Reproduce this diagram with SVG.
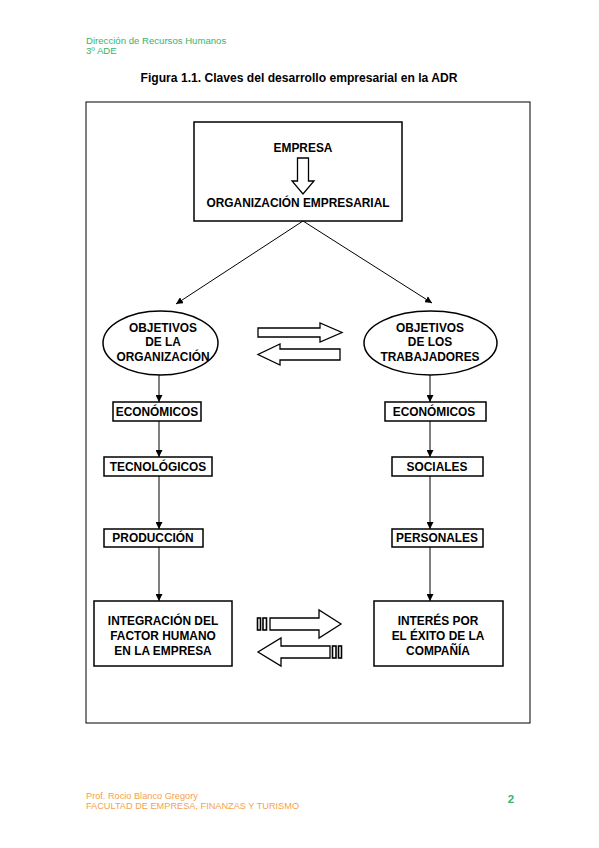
<svg xmlns="http://www.w3.org/2000/svg" width="599" height="848" viewBox="0 0 599 848">
<style>
text{font-family:"Liberation Sans",Arial,sans-serif}
.d{font-weight:bold;font-size:11.9px;fill:#000;text-anchor:middle}
.box{fill:#fff;stroke:#000;stroke-width:1.5}
.ln{stroke:#000;stroke-width:1;fill:none}
.ha{fill:#fff;stroke:#000;stroke-width:1.3}
.bar{fill:#fff;stroke:#000;stroke-width:1.6}
.hdr{fill:#33b56e;font-size:9.6px}
.ftr{fill:#f5a24c;font-size:9.2px}
</style>
<defs>
<marker id="ah" viewBox="0 0 10 10" refX="10" refY="5" markerWidth="7" markerHeight="7" orient="auto" markerUnits="userSpaceOnUse">
<path d="M0,0 L10,5 L0,10 z" fill="#000"/>
</marker>
</defs>
<rect width="599" height="848" fill="#fff"/>
<g id="header">
<text class="hdr" x="86" y="44">Dirección de Recursos Humanos</text>
<text class="hdr" x="86" y="54">3º ADE</text>
</g>
<text x="299" y="82" font-weight="bold" font-size="12.1" text-anchor="middle">Figura 1.1. Claves del desarrollo empresarial en la ADR</text>
<rect x="86" y="102" width="444" height="621" fill="none" stroke="#000" stroke-width="1"/>

<g id="connectors">
<line class="ln" x1="303" y1="221" x2="176" y2="304" marker-end="url(#ah)"/>
<line class="ln" x1="303" y1="221" x2="432" y2="303" marker-end="url(#ah)"/>
<line class="ln" x1="159" y1="375" x2="159" y2="402" marker-end="url(#ah)"/>
<line class="ln" x1="159" y1="421" x2="159" y2="457" marker-end="url(#ah)"/>
<line class="ln" x1="159" y1="476" x2="159" y2="529" marker-end="url(#ah)"/>
<line class="ln" x1="159" y1="547" x2="159" y2="601" marker-end="url(#ah)"/>
<line class="ln" x1="430" y1="375" x2="430" y2="402" marker-end="url(#ah)"/>
<line class="ln" x1="430" y1="421" x2="430" y2="457" marker-end="url(#ah)"/>
<line class="ln" x1="430" y1="476" x2="430" y2="529" marker-end="url(#ah)"/>
<line class="ln" x1="430" y1="547" x2="430" y2="601" marker-end="url(#ah)"/>
<path class="ha" d="M258,328 H320 V323 L342,332.5 L320,342 V337 H258 Z"/>
<path class="ha" d="M340,349 H280 V344 L258,354.5 L280,365 V360 H340 Z"/>
<path class="ha" d="M270,618 H319 V610 L341,624 L319,638 V630 H270 Z"/>
<rect class="bar" x="257.5" y="618" width="3" height="12"/>
<rect class="bar" x="263" y="618" width="3.5" height="12"/>
<path class="ha" d="M330,646 H281 V638 L258,652 L281,666 V658 H330 Z"/>
<rect class="bar" x="332.5" y="646" width="3.5" height="12"/>
<rect class="bar" x="338.5" y="646" width="3" height="12"/>
</g>

<g id="empresa">
<rect class="box" x="194" y="122" width="208" height="99"/>
<text class="d" x="303" y="152">EMPRESA</text>
<path class="ha" d="M297.5,158 H308.5 V181 H314 L303,194 L292,181 H297.5 Z"/>
<text class="d" x="298" y="207">ORGANIZACIÓN EMPRESARIAL</text>
</g>

<g id="obj-org">
<ellipse cx="160.5" cy="343" rx="57.5" ry="32" fill="#fff" stroke="#000" stroke-width="1.5"/>
<text class="d" x="163" y="332">OBJETIVOS</text>
<text class="d" x="163" y="346">DE LA</text>
<text class="d" x="163" y="361">ORGANIZACIÓN</text>
</g>
<g id="obj-trab">
<ellipse cx="430.5" cy="343" rx="66.5" ry="32" fill="#fff" stroke="#000" stroke-width="1.5"/>
<text class="d" x="430" y="332">OBJETIVOS</text>
<text class="d" x="430" y="346">DE LOS</text>
<text class="d" x="430" y="361">TRABAJADORES</text>
</g>

<g id="eco-l">
<rect class="box" x="113" y="402" width="88" height="19"/>
<text class="d" x="157" y="416">ECONÓMICOS</text>
</g>
<g id="tec">
<rect class="box" x="104" y="457" width="108" height="19"/>
<text class="d" x="158" y="471">TECNOLÓGICOS</text>
</g>
<g id="prod">
<rect class="box" x="104" y="529" width="99" height="18"/>
<text class="d" x="153" y="542">PRODUCCIÓN</text>
</g>
<g id="integ">
<rect class="box" x="94" y="601" width="138" height="65"/>
<text class="d" x="163" y="625">INTEGRACIÓN DEL</text>
<text class="d" x="163" y="640">FACTOR HUMANO</text>
<text class="d" x="163" y="655">EN LA EMPRESA</text>
</g>

<g id="eco-r">
<rect class="box" x="385" y="402" width="101" height="19"/>
<text class="d" x="434" y="416">ECONÓMICOS</text>
</g>
<g id="soc">
<rect class="box" x="392" y="457" width="91" height="19"/>
<text class="d" x="437" y="471">SOCIALES</text>
</g>
<g id="pers">
<rect class="box" x="392" y="529" width="91" height="18"/>
<text class="d" x="437" y="542">PERSONALES</text>
</g>
<g id="interes">
<rect class="box" x="374" y="601" width="129" height="65"/>
<text class="d" x="438" y="625">INTERÉS POR</text>
<text class="d" x="438" y="640">EL ÉXITO DE LA</text>
<text class="d" x="438" y="655">COMPAÑÍA</text>
</g>

<g id="footer">
<text class="ftr" x="86" y="799">Prof. Rocio Blanco Gregory</text>
<text class="ftr" x="86" y="809">FACULTAD DE EMPRESA, FINANZAS Y TURISMO</text>
<text x="511" y="803" font-weight="bold" font-size="11.5" fill="#33b56e" text-anchor="middle">2</text>
</g>
</svg>
